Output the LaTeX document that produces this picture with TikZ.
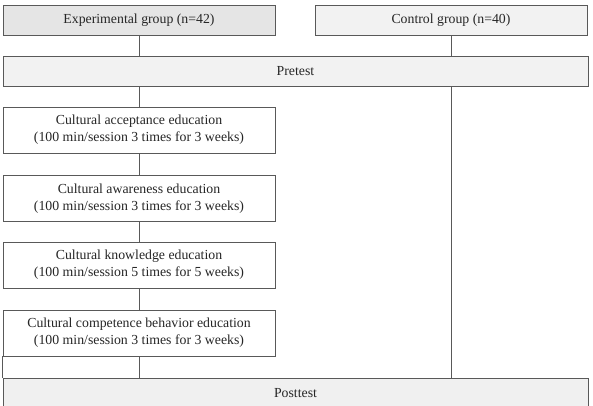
\documentclass[tikz,border=0pt]{standalone}
\usepackage{fontspec}
\setmainfont{Liberation Serif}
\begin{document}
\begin{tikzpicture}[x=1pt,y=-1pt,
  box/.style={draw=black!65, line width=0.8pt, rectangle, inner sep=0pt, align=center,
    font=\fontsize{13.8}{17}\selectfont, text=black!85},
  wbox/.style={box, fill=white, minimum width=272pt, minimum height=46pt},
  link/.style={draw=black!65, line width=0.8pt}]
\clip (0,0) rectangle (593,405);
\fill[white] (0,0) rectangle (593,405);
\node[box, fill=black!10, minimum width=272pt, minimum height=30pt] (exp) at (139,20) {Experimental group (n=42)};
\node[box, fill=black!5, minimum width=272pt, minimum height=30pt] (ctrl) at (451,20) {Control group (n=40)};
\node[box, fill=black!5, minimum width=585pt, minimum height=30pt] (pre) at (295.5,71) {Pretest};
\node[wbox] (acc) at (139,130) {Cultural acceptance education\\(100 min/session 3 times for 3 weeks)};
\node[wbox] (awa) at (139,198.5) {Cultural awareness education\\(100 min/session 3 times for 3 weeks)};
\node[wbox] (kno) at (139,265) {Cultural knowledge education\\(100 min/session 5 times for 5 weeks)};
\node[wbox] (com) at (139,333) {Cultural competence behavior education\\(100 min/session 3 times for 3 weeks)};
\node[box, fill=black!6, minimum width=585pt, minimum height=31pt] (post) at (295.5,393.5) {Posttest};
\draw[link] (exp.south) -- (exp.south |- pre.north);
\draw[link] (ctrl.south) -- (ctrl.south |- pre.north);
\draw[link] (acc.north |- pre.south) -- (acc.north);
\draw[link] (acc.south) -- (awa.north);
\draw[link] (awa.south) -- (kno.north);
\draw[link] (kno.south) -- (com.north);
\draw[link] (com.south) -- (com.south |- post.north);
\draw[link] (ctrl.south |- pre.south) -- (ctrl.south |- post.north);
\draw[link] (com.south west) -- (com.south west |- post.north);
\end{tikzpicture}
\end{document}
